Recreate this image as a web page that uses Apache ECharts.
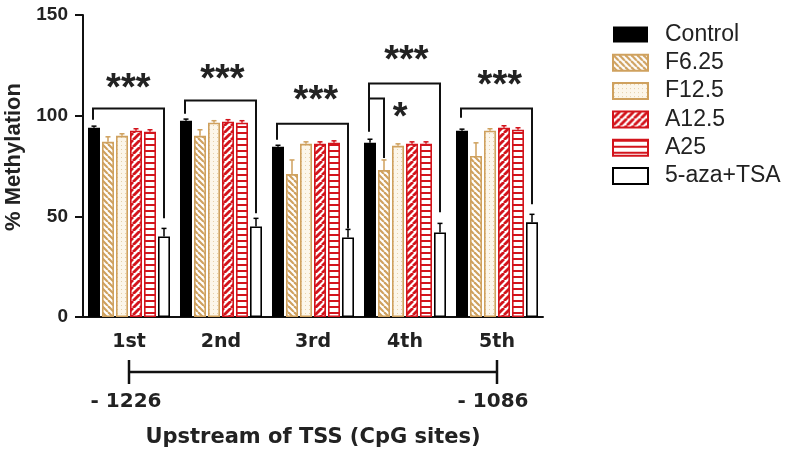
<!DOCTYPE html>
<html><head><meta charset="utf-8">
<script src="https://cdn.jsdelivr.net/npm/echarts@6/dist/echarts.min.js"></script>
<style>html,body{margin:0;padding:0;background:#fff}#c{width:800px;height:461px}</style>
</head><body><div id="c"></div>
<script>
const categories = ['1st', '2nd', '3rd', '4th', '5th'];
const seriesNames = ['Control', 'F6.25', 'F12.5', 'A12.5', 'A25', '5-aza+TSA'];
const control = [94, 97.5, 84.5, 86.5, 92.5];
const f625 = [87, 90, 71, 73, 80];
const f125 = [90, 96.5, 86, 85, 92.5];
const a125 = [92.5, 97, 86, 86, 94];
const a25 = [92, 96.5, 86.5, 86, 93];
const aza = [40, 45, 39.5, 42, 47];
const controlErr = [0.8, 0.8, 0.8, 1.8, 0.8];
const f625Err = [2.5, 3, 7, 5, 6.5];
const f125Err = [1, 1, 1, 1, 1];
const a125Err = [1, 1, 1, 1, 1];
const a25Err = [1, 1, 1, 1, 1];
const azaErr = [4, 4, 4, 4.5, 4];
// [category, leftSlot, rightSlot, topValue, leftBottomValue, rightBottomValue]
const brackets = [
  [0, 0, 5, 103.5, 98, 49],
  [1, 0, 5, 107.5, 101, 51.5],
  [2, 0, 5, 96, 88, 44],
  [3, 0, 5, 116, 92, 52],
  [3, 0, 1, 108.5, 108.5, 79],
  [4, 0, 5, 103.5, 99, 56]
];
// [category, slot, value, text]
const stars = [
  [0, 2.45, 117.7, '***'],
  [1, 2.6, 122, '***'],
  [2, 2.7, 111.5, '***'],
  [3, 2.6, 131.5, '***'],
  [3, 2.15, 103.3, '*'],
  [4, 2.7, 119, '***']
];
const rangeLabels = ['- 1226', '- 1086'];
const yTicks = [0, 50, 100, 150];

const TAN = '#cfa15e', RED = '#d3141c';
function pat(size, draw) {
  const c = document.createElement('canvas'); c.width = size; c.height = size;
  const g = c.getContext('2d'); g.fillStyle = '#fff'; g.fillRect(0, 0, size, size); draw(g, size);
  return { image: c, repeat: 'repeat' };
}
function stripes(color, dir, size, lw) {
  return pat(size, (g, s) => {
    g.strokeStyle = color; g.lineWidth = lw;
    for (let o = -s; o <= s; o += s) {
      g.beginPath();
      if (dir === '/') { g.moveTo(o, s); g.lineTo(o + s, 0); }
      else { g.moveTo(o, 0); g.lineTo(o + s, s); }
      g.stroke();
    }
  });
}
const fills = [
  '#000',
  stripes(TAN, '\\', 6, 2.2),
  pat(4, (g) => { g.fillStyle = '#fcf6ea'; g.fillRect(0, 0, 4, 4); g.fillStyle = '#e6d0a8'; g.fillRect(1, 1, 1, 1); }),
  stripes(RED, '/', 7, 2.8),
  pat(6, (g) => { g.fillStyle = RED; g.fillRect(0, 0, 6, 2); }),
  '#fff'
];
const borders = ['#000', TAN, TAN, RED, RED, '#000'];
const values = [control, f625, f125, a125, a25, aza];
const errs = [controlErr, f625Err, f125Err, a125Err, a25Err, azaErr];
const SLOT = 14;

const chart = echarts.init(document.getElementById('c'));
const FONT = 'Liberation Sans, Arial, sans-serif';
const WIDE = 'DejaVu Sans, sans-serif';

const barSeries = seriesNames.map((n, i) => ({
  name: n, type: 'bar', data: values[i], barWidth: 12, barGap: '16.67%',
  itemStyle: { color: fills[i], borderColor: borders[i], borderWidth: i === 0 ? 0 : 1.6 }
}));

const errData = [];
values.forEach((arr, s) => arr.forEach((v, c) => errData.push([c, v, errs[s][c], s])));

const errSeries = {
  type: 'custom', silent: true, data: errData, z: 5,
  renderItem: (p, api) => {
    const c = api.value(0), v = api.value(1), e = api.value(2), s = api.value(3);
    const p0 = api.coord([c, v]); const p1 = api.coord([c, v + e]);
    const x = p0[0] + (s - 2.5) * SLOT;
    const col = borders[s];
    return { type: 'group', children: [
      { type: 'line', shape: { x1: x, y1: p0[1], x2: x, y2: p1[1] }, style: { stroke: col, lineWidth: 1.5 } },
      { type: 'line', shape: { x1: x - 2.5, y1: p1[1], x2: x + 2.5, y2: p1[1] }, style: { stroke: col, lineWidth: 1.5 } }
    ] };
  }
};

const bracketSeries = {
  type: 'custom', silent: true, data: brackets, z: 6,
  renderItem: (p, api) => {
    const c = api.value(0), l = api.value(1), r = api.value(2);
    const top = api.coord([c, api.value(3)]);
    const lb = api.coord([c, api.value(4)]);
    const rb = api.coord([c, api.value(5)]);
    const xl = top[0] + (l - 2.5) * SLOT - 1, xr = top[0] + (r - 2.5) * SLOT;
    return { type: 'polyline', shape: { points: [[xl, lb[1]], [xl, top[1]], [xr, top[1]], [xr, rb[1]]] },
      style: { stroke: '#111', lineWidth: 2, fill: null } };
  }
};

const starSeries = {
  type: 'custom', silent: true, data: stars, z: 6,
  renderItem: (p, api) => {
    const pt = api.coord([api.value(0), api.value(2)]);
    return { type: 'text', x: pt[0] + (api.value(1) - 2.5) * SLOT, y: pt[1] + 9,
      style: { text: stars[p.dataIndex][3], font: 'bold 38px ' + FONT, fill: '#222', align: 'center', verticalAlign: 'middle' } };
  }
};

const rangeSeries = {
  type: 'custom', silent: true, data: [[0, 4]], z: 6, clip: false,
  renderItem: (p, api) => {
    const a = api.coord([api.value(0), 0]), b = api.coord([api.value(1), 0]);
    const y = a[1] + 55;
    return { type: 'group', children: [
      { type: 'line', shape: { x1: a[0], y1: y, x2: b[0], y2: y }, style: { stroke: '#111', lineWidth: 2.5 } },
      { type: 'line', shape: { x1: a[0], y1: y - 12, x2: a[0], y2: y + 12 }, style: { stroke: '#111', lineWidth: 2.5 } },
      { type: 'line', shape: { x1: b[0], y1: y - 12, x2: b[0], y2: y + 12 }, style: { stroke: '#111', lineWidth: 2.5 } },
      { type: 'text', x: a[0] - 3, y: y + 30, style: { text: rangeLabels[0], font: 'bold 20px ' + WIDE, fill: '#222', align: 'center', verticalAlign: 'middle' } },
      { type: 'text', x: b[0] - 4, y: y + 30, style: { text: rangeLabels[1], font: 'bold 20px ' + WIDE, fill: '#222', align: 'center', verticalAlign: 'middle' } }
    ] };
  }
};

chart.setOption({
  animation: false,
  backgroundColor: '#fff',
  grid: { left: 83, right: 257, top: 15, bottom: 144, outerBoundsMode: 'none', containLabel: false },
  legend: {
    data: seriesNames, orient: 'vertical', left: 607, top: 18, icon: 'rect',
    itemWidth: 35, itemHeight: 16, itemGap: 5.3,
    textStyle: { fontSize: 23, lineHeight: 16, color: '#222', fontFamily: FONT, padding: [0, 0, 0, 12] }
  },
  xAxis: {
    type: 'category', data: categories,
    name: 'Upstream of TSS (CpG sites)', nameLocation: 'middle', nameGap: 110,
    nameTextStyle: { fontSize: 21, fontWeight: 'bold', color: '#222', fontFamily: WIDE },
    axisLine: { lineStyle: { color: '#111', width: 2 } },
    axisTick: { alignWithLabel: true, length: 8, lineStyle: { color: '#111', width: 2 } },
    axisLabel: { fontSize: 19, fontWeight: 'bold', color: '#222', margin: 16, fontFamily: WIDE }
  },
  yAxis: {
    type: 'value', min: 0, max: 150, interval: 50,
    name: '% Methylation', nameLocation: 'middle', nameGap: 54,
    nameTextStyle: { fontSize: 22, fontWeight: 'bold', color: '#222', fontFamily: FONT, padding: [0, 0, 0, 18] },
    axisLine: { show: true, lineStyle: { color: '#111', width: 2 } },
    axisTick: { show: true, length: 8, lineStyle: { color: '#111', width: 2 } },
    splitLine: { show: false },
    axisLabel: { fontSize: 19, fontWeight: 'bold', color: '#222', margin: 15, fontFamily: FONT,
      formatter: v => yTicks.includes(v) ? String(v) : '' }
  },
  series: [...barSeries, errSeries, bracketSeries, starSeries, rangeSeries]
});
</script></body></html>
